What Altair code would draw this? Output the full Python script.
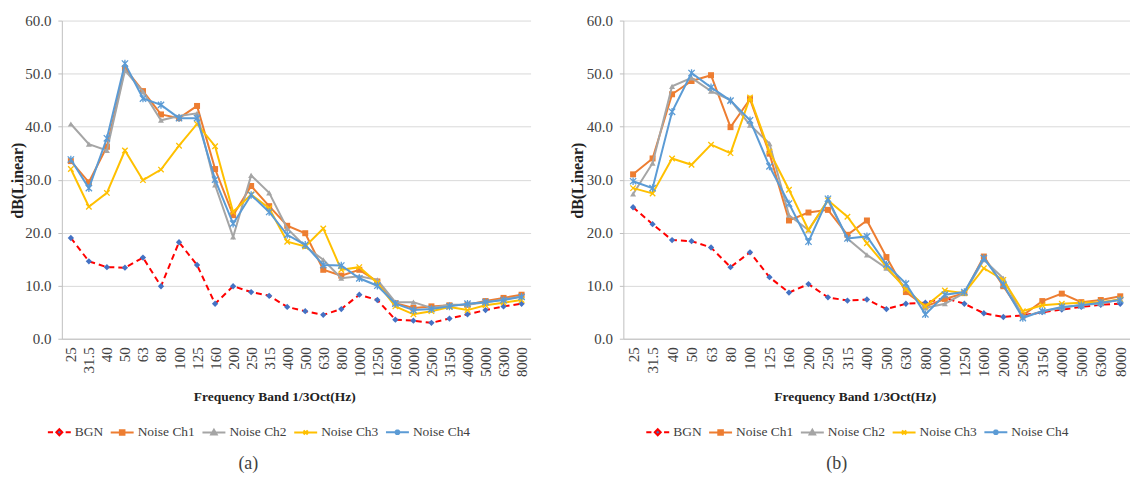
import altair as alt
import pandas as pd

freqs = ["25", "31.5", "40", "50", "63", "80", "100", "125", "160", "200", "250", "315",
         "400", "500", "630", "800", "1000", "1250", "1600", "2000", "2500", "3150",
         "4000", "5000", "6300", "8000"]
series = ["BGN", "Noise Ch1", "Noise Ch2", "Noise Ch3", "Noise Ch4"]

# Panel (a)
a_bgn = [19.0, 14.6, 13.5, 13.4, 15.3, 9.9, 18.2, 13.9, 6.6, 9.9, 8.8, 8.1, 6.0, 5.2, 4.5, 5.6,
         8.3, 7.3, 3.6, 3.4, 3.0, 3.8, 4.6, 5.4, 6.1, 6.6]
a_ch1 = [33.5, 29.5, 36.2, 51.0, 46.7, 42.3, 41.6, 43.9, 32.0, 23.3, 28.8, 25.0, 21.3, 19.9, 13.0, 11.9,
         13.0, 10.8, 6.7, 5.8, 6.1, 6.3, 6.4, 7.1, 7.7, 8.3]
a_ch2 = [40.5, 36.7, 35.5, 50.6, 46.6, 41.2, 42.0, 42.5, 29.0, 19.2, 30.8, 27.5, 20.8, 17.4, 14.9, 11.4,
         11.8, 11.1, 6.9, 6.9, 5.8, 6.4, 6.4, 6.9, 7.4, 8.0]
a_ch3 = [32.0, 24.9, 27.5, 35.5, 29.9, 31.9, 36.4, 40.5, 36.3, 23.9, 27.2, 24.6, 18.3, 17.4, 20.8, 13.0,
         13.5, 10.5, 6.1, 4.6, 5.2, 6.0, 5.4, 6.3, 6.8, 7.3]
a_ch4 = [33.8, 28.4, 37.8, 51.9, 45.3, 44.1, 41.6, 41.6, 30.0, 21.7, 27.1, 23.9, 19.6, 17.7, 13.9, 13.8,
         11.4, 10.0, 6.6, 5.4, 5.6, 6.1, 6.6, 6.9, 7.3, 7.9]

# Panel (b)
b_bgn = [24.8, 21.6, 18.6, 18.4, 17.2, 13.5, 16.3, 11.6, 8.7, 10.3, 7.8, 7.2, 7.4, 5.6, 6.6, 6.8,
         7.7, 6.6, 4.8, 4.1, 4.4, 5.0, 5.5, 6.0, 6.4, 6.6]
b_ch1 = [31.0, 34.0, 46.1, 48.6, 49.7, 39.9, 45.2, 34.9, 22.3, 23.8, 24.3, 19.6, 22.3, 15.4, 8.8, 6.1,
         7.5, 8.6, 15.5, 9.9, 4.4, 7.1, 8.5, 6.9, 7.3, 8.0]
b_ch2 = [27.3, 33.1, 47.6, 49.2, 46.7, 45.0, 40.3, 36.8, 23.3, 20.5, 26.1, 18.9, 15.8, 13.3, 9.6, 5.8,
         6.6, 8.6, 14.9, 11.4, 4.1, 5.2, 5.8, 6.4, 6.6, 7.5]
b_ch3 = [28.4, 27.4, 34.0, 32.8, 36.6, 35.0, 45.5, 35.3, 28.1, 20.5, 26.1, 23.0, 18.0, 13.6, 9.3, 6.1,
         9.1, 8.6, 13.3, 11.1, 5.2, 6.3, 6.6, 6.8, 6.9, 7.4]
b_ch4 = [29.7, 28.4, 42.8, 50.1, 47.4, 44.9, 41.2, 32.5, 25.5, 18.3, 26.4, 18.9, 19.3, 14.0, 10.4, 4.6,
         8.3, 8.8, 15.2, 10.2, 3.9, 5.2, 6.0, 6.3, 6.8, 7.3]

line_colors = ["#FF0000", "#ED7D31", "#A5A5A5", "#FFC000", "#5B9BD5"]
marker_colors = ["#4472C4", "#ED7D31", "#A5A5A5", "#FFC000", "#5B9BD5"]
marker_shapes = ["diamond", "square", "triangle-up",
                 "M-1,-1L1,1M-1,1L1,-1",
                 "M-1,-1L1,1M-1,1L1,-1M0,-1.2L0,1.2"]
marker_filled = [True, True, True, False, False]
marker_sizes = [40, 36, 36, 30, 40]
legend_paths = [
    "M-1,0L-0.55,0M0.55,0L1,0M0,-0.26L0.26,0L0,0.26L-0.26,0Z",
    "M-1,0L1,0M-0.2,-0.2L0.2,-0.2L0.2,0.2L-0.2,0.2Z",
    "M-1,0L1,0M0,-0.24L0.24,0.18L-0.24,0.18Z",
    "M-1,0L1,0M-0.18,-0.18L0.18,0.18M-0.18,0.18L0.18,-0.18",
    "M-1,0L1,0M-0.18,-0.18L0.18,0.18M-0.18,0.18L0.18,-0.18M0,-0.24L0,0.24",
]

FONT = "Liberation Serif, Times New Roman, serif"
TXT = "#404040"


def panel(values, width, title, title_dx, legend_x, ytitle_x):
    rows = []
    for s, vals in zip(series, values):
        for f, v in zip(freqs, vals):
            rows.append({"freq": f, "series": s, "value": v})
    df = pd.DataFrame(rows)
    base = alt.Chart(df)

    x = alt.X("freq:N", sort=freqs, scale=alt.Scale(domain=freqs),
              title="Frequency Band 1/3Oct(Hz)",
              axis=alt.Axis(labelAngle=270, labelFont=FONT, labelFontSize=15, labelColor=TXT,
                            labelPadding=8, ticks=False, domainColor="#BFBFBF", grid=False,
                            titleFont=FONT, titleFontSize=13.5, titleFontWeight="bold",
                            titleColor="#222222", titleX=(width / 2) - 22, titleY=51,
                            titleAlign="center", titleBaseline="top", labelOverlap=False))
    y = alt.Y("value:Q", scale=alt.Scale(domain=[0, 60]), title="dB(Linear)",
              axis=alt.Axis(values=[0, 10, 20, 30, 40, 50, 60], format=".1f",
                            labelFont=FONT, labelFontSize=15, labelColor=TXT, labelPadding=7,
                            tickSize=4, tickColor="#BFBFBF", domainColor="#BFBFBF",
                            gridColor="#D9D9D9", titleFont=FONT, titleFontSize=16,
                            titleFontWeight="bold", titleColor="#222222", titleAngle=270,
                            titleX=ytitle_x, titleY=160, titleAlign="center",
                            titleBaseline="middle"))

    layers = []
    for i, s in enumerate(series):
        sub = base.transform_filter(alt.datum.series == s)
        if i == 0:
            ln = sub.mark_line(color=line_colors[i], strokeWidth=2, strokeDash=[6, 4])
        else:
            ln = sub.mark_line(color=line_colors[i], strokeWidth=2)
        layers.append(ln.encode(x=x, y=y))
        if marker_filled[i]:
            pt = sub.mark_point(shape=marker_shapes[i], filled=True, color=marker_colors[i],
                                size=marker_sizes[i], opacity=1)
        else:
            pt = sub.mark_point(shape=marker_shapes[i], filled=False, color=marker_colors[i],
                                size=marker_sizes[i], strokeWidth=1.3, opacity=1)
        layers.append(pt.encode(x=x, y=y))

    leg = alt.Legend(orient="none", direction="horizontal", legendX=legend_x, legendY=400,
                     labelFont=FONT, labelFontSize=13.5, labelColor=TXT, labelOffset=3,
                     columnPadding=3, symbolSize=529, symbolStrokeWidth=2,
                     labelLimit=200, symbolOpacity=1)
    legend_layer = base.transform_filter("false").mark_point(size=529, strokeWidth=2, opacity=1).encode(
        shape=alt.Shape("series:N", title=None, legend=leg,
                        scale=alt.Scale(domain=series, range=legend_paths)),
        stroke=alt.Stroke("series:N", title=None, legend=leg,
                          scale=alt.Scale(domain=series, range=line_colors)),
        fill=alt.Fill("series:N", title=None, legend=leg,
                      scale=alt.Scale(domain=series, range=marker_colors)),
    )
    layers.append(legend_layer)

    return alt.layer(*layers).properties(
        width=width, height=319,
        title=alt.TitleParams(title, orient="bottom", anchor="middle", dx=title_dx,
                              font=FONT, fontSize=18, fontWeight="normal", color=TXT,
                              offset=16))


left = panel([a_bgn, a_ch1, a_ch2, a_ch3, a_ch4], 470, "(a)", -48, -15, -44)
right = panel([b_bgn, b_ch1, b_ch2, b_ch3, b_ch4], 508, "(b)", -40, 22, -46)

chart = alt.hconcat(left, right, spacing=39).resolve_scale(
    shape="independent", stroke="independent", fill="independent"
).configure(
    padding={"left": 10, "top": 13, "right": 0, "bottom": 0},
    background="white",
    font=FONT,
).configure_view(stroke=None)

chart.save("out.html", embed_options={"renderer": "svg", "actions": False})
